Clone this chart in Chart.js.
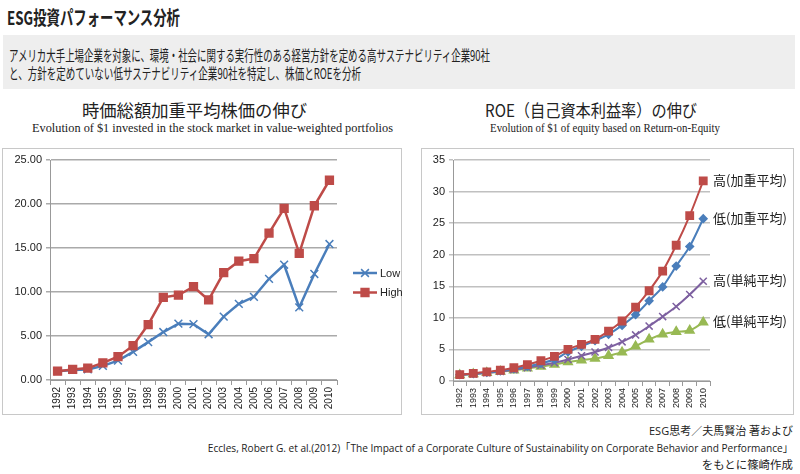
<!DOCTYPE html>
<html lang="ja">
<head>
<meta charset="utf-8">
<script src="https://cdn.jsdelivr.net/npm/chart.js@4.4.1/dist/chart.umd.min.js"></script>
<style>
    body {
        margin: 0;
        width: 800px;
        height: 474px;
        position: relative;
        overflow: hidden;
        background: #fff;
        color: #222;
        font-family: "Noto Sans CJK JP", sans-serif;
    }
    .t {
        position: absolute;
        white-space: nowrap;
        line-height: 1;
        transform-origin: left center;
    }
    .r { transform-origin: right center; }
    .lead {
        position: absolute;
        left: 3px; top: 35px;
        width: 792px; height: 54px;
        background: #eeeeee;
    }
    .frame {
        position: absolute;
        top: 148px;
        height: 267px;
        box-sizing: border-box;
        border: 1.5px solid #c8c8c8;
    }
    canvas { position: absolute; top: 148px; }
    .serif { font-family: "Liberation Serif", serif; font-size: 12px; }
    .foot { font-family: "Open Sans", "Noto Sans CJK JP", sans-serif; font-size: 11px; }
</style>
</head>
<body>
    <div class="t" style="left:7px; top:7px; font-size:19px; font-weight:bold;" data-w="173">ESG投資パフォーマンス分析</div>
    <div class="lead"></div>
    <div class="t" style="left:9px; top:47px; font-size:15px;" data-w="481">アメリカ大手上場企業を対象に、環境・社会に関する実行性のある経営方針を定める高サステナビリティ企業90社</div>
    <div class="t" style="left:9px; top:65px; font-size:15px;" data-w="352">と、方針を定めていない低サステナビリティ企業90社を特定し、株価とROEを分析</div>

    <div class="t" style="left:82px; top:101px; font-size:17px;" data-w="225">時価総額加重平均株価の伸び</div>
    <div class="t serif" style="left:32px; top:122px;" data-w="361">Evolution of $1 invested in the stock market in value-weighted portfolios</div>
    <div class="t" style="left:485px; top:101px; font-size:17px;" data-w="212">ROE（自己資本利益率）の伸び</div>
    <div class="t serif" style="left:490px; top:122px;" data-w="230">Evolution of $1 of equity based on Return-on-Equity</div>

    <div class="frame" style="left:2px; width:400px;"></div>
    <div class="frame" style="left:421px; width:373px;"></div>
    <canvas id="stockChart" width="400" height="267" style="left:2px;"></canvas>
    <canvas id="roeChart" width="372" height="267" style="left:421px;"></canvas>

    <div class="t r foot" style="right:7px; top:425px;" data-w="144">ESG思考／夫馬賢治 著および</div>
    <div class="t r foot" style="right:7px; top:442px;" data-w="585">Eccles, Robert G. et al.(2012)「The Impact of a Corporate Culture of Sustainability on Corporate Behavior and Performance」</div>
    <div class="t r foot" style="right:7px; top:459px;" data-w="91">をもとに篠崎作成</div>

<script>
const years = ["1992", "1993", "1994", "1995", "1996", "1997", "1998", "1999", "2000", "2001",
               "2002", "2003", "2004", "2005", "2006", "2007", "2008", "2009", "2010"];

// left chart: value-weighted stock portfolios
const stockSeries = ["Low", "High"];
const stockLow  = [1.0, 1.15, 1.2, 1.6, 2.2, 3.2, 4.3, 5.45, 6.4, 6.35, 5.2, 7.2, 8.65, 9.45, 11.5, 13.1, 8.25, 12.05, 15.45];
const stockHigh = [1.0, 1.2, 1.35, 1.95, 2.65, 3.9, 6.3, 9.4, 9.65, 10.6, 9.1, 12.2, 13.5, 13.8, 16.7, 19.5, 14.4, 19.8, 22.7];
const stockTicks = [0, 5, 10, 15, 20, 25];

// right chart: ROE
const roeSeries = ["高(加重平均)", "低(加重平均)", "高(単純平均)", "低(単純平均)"];
const roeHighW = [1.0, 1.2, 1.45, 1.7, 2.1, 2.6, 3.2, 3.9, 5.0, 5.8, 6.6, 7.9, 9.5, 11.7, 14.3, 17.4, 21.5, 26.2, 31.7];
const roeLowW  = [1.0, 1.15, 1.35, 1.6, 1.9, 2.3, 2.8, 3.4, 4.6, 5.5, 6.4, 7.4, 8.8, 10.5, 12.7, 14.9, 18.2, 21.3, 25.7];
const roeHighS = [1.0, 1.1, 1.3, 1.5, 1.8, 2.1, 2.5, 2.9, 3.4, 4.0, 4.6, 5.3, 6.2, 7.3, 8.7, 10.2, 11.8, 13.7, 15.8];
const roeLowS  = [0.95, 1.1, 1.3, 1.5, 1.7, 2.0, 2.3, 2.6, 3.0, 3.3, 3.55, 4.0, 4.55, 5.5, 6.6, 7.4, 7.8, 8.0, 9.3];
const roeTicks = [0, 5, 10, 15, 20, 25, 30, 35];

const BLUE = "#4a7ebb", RED = "#be4b48", PURPLE = "#7d60a0", GREEN = "#98b954";
const tickFont = { family: "Liberation Sans", size: 11 };

// fit squeezed header / footer text to the widths in the picture
document.querySelectorAll("[data-w]").forEach(el => {
    const w = el.getBoundingClientRect().width;
    el.style.transform = `scaleX(${el.dataset.w / w})`;
});

// excel-like legend to the right of the plot
const sideLegend = {
    id: "sideLegend",
    afterDraw(chart) {
        const ctx = chart.ctx;
        const x0 = 351, y0 = 125;
        chart.data.datasets.forEach((ds, i) => {
            const y = y0 + i * 19.5;
            ctx.save();
            ctx.strokeStyle = ds.borderColor;
            ctx.fillStyle = ds.backgroundColor;
            ctx.lineWidth = ds.borderWidth;
            ctx.beginPath();
            ctx.moveTo(x0, y);
            ctx.lineTo(x0 + 24, y);
            ctx.stroke();
            ctx.lineWidth = 1.5;
            Chart.helpers.drawPoint(ctx, {
                pointStyle: ds.pointStyle, radius: ds.pointRadius, borderWidth: 1.5
            }, x0 + 12, y);
            ctx.fillStyle = "#222";
            ctx.font = "11px 'Liberation Sans'";
            ctx.textBaseline = "middle";
            ctx.fillText(ds.label, x0 + 27, y + 0.5);
            ctx.restore();
        });
    }
};

// series names written at the end of each ROE line
const endLabels = {
    id: "endLabels",
    afterDatasetsDraw(chart) {
        const ctx = chart.ctx;
        ctx.save();
        ctx.fillStyle = "#222";
        ctx.font = "13px 'Noto Sans CJK JP'";
        ctx.textBaseline = "middle";
        chart.data.datasets.forEach((ds, i) => {
            const pts = chart.getDatasetMeta(i).data;
            const last = pts[pts.length - 1];
            ctx.fillText(ds.label, chart.chartArea.right + 3, last.y - 1);
        });
        ctx.restore();
    }
};

function lineSet(label, data, color, style, radius, width, tension) {
    return {
        label: label,
        data: data,
        borderColor: color,
        backgroundColor: color,
        borderWidth: width,
        pointStyle: style,
        pointRadius: radius,
        pointBorderWidth: 1.5,
        pointBorderColor: color,
        pointBackgroundColor: color,
        tension: tension
    };
}

function axes(maxY, ticks, fmt, yWidth, xHeight, xFont, gridColor) {
    return {
        x: {
            offset: true,
            grid: { offset: true, drawOnChartArea: false, tickLength: 5, color: "#999" },
            border: { color: "#999" },
            ticks: { minRotation: 90, maxRotation: 90, autoSkip: false, padding: 2, color: "#222", font: { family: "Liberation Sans", size: xFont } },
            afterFit: s => { s.height = xHeight; }
        },
        y: {
            min: 0,
            max: maxY,
            afterBuildTicks: s => { s.ticks = ticks.map(v => ({ value: v })); },
            ticks: { padding: 4, color: "#222", font: tickFont, callback: fmt },
            grid: { color: gridColor, lineWidth: 1.5, tickLength: 4 },
            border: { color: "#999" },
            afterFit: s => { s.width = yWidth; }
        }
    };
}

new Chart(document.getElementById("stockChart").getContext("2d"), {
    type: "line",
    data: {
        labels: years,
        datasets: [
            Object.assign(lineSet(stockSeries[0], stockLow, BLUE, "crossRot", 5.5, 2.5, 0), { order: 1 }),
            Object.assign(lineSet(stockSeries[1], stockHigh, RED, "rect", 5.5, 2.5, 0), { order: 0 })
        ]
    },
    options: {
        responsive: false,
        animation: false,
        layout: { padding: { top: 12, right: 65, left: 0, bottom: 0 } },
        plugins: { legend: { display: false }, tooltip: { enabled: false } },
        scales: axes(25, stockTicks, v => v.toFixed(2), 48, 35, 10, "#aaaaaa")
    },
    plugins: [sideLegend]
});

new Chart(document.getElementById("roeChart").getContext("2d"), {
    type: "line",
    data: {
        labels: years,
        datasets: [
            Object.assign(lineSet(roeSeries[0], roeHighW, RED, "rect", 5.2, 2, 0.3), { order: 0 }),
            Object.assign(lineSet(roeSeries[1], roeLowW, BLUE, "rectRot", 3.8, 2, 0.3), { order: 1 }),
            Object.assign(lineSet(roeSeries[2], roeHighS, PURPLE, "crossRot", 5, 2, 0.3), { order: 2 }),
            Object.assign(lineSet(roeSeries[3], roeLowS, GREEN, "triangle", 5, 2, 0.3), { order: 3 })
        ]
    },
    options: {
        responsive: false,
        animation: false,
        layout: { padding: { top: 12, right: 83, left: 0, bottom: 0 } },
        plugins: { legend: { display: false }, tooltip: { enabled: false } },
        scales: axes(35, roeTicks, v => v, 32, 34, 9, "#c0c0c0")
    },
    plugins: [endLabels]
});
</script>
</body>
</html>
